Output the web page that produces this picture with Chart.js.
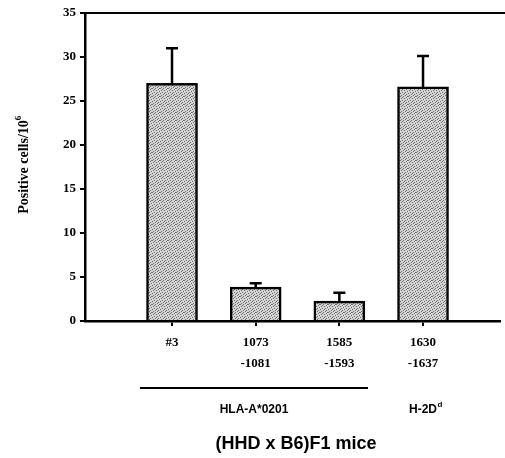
<!DOCTYPE html>
<html>
<head>
<meta charset="utf-8">
<script src="https://cdn.jsdelivr.net/npm/chart.js@4/dist/chart.umd.min.js"></script>
<style>
  html, body { margin: 0; padding: 0; background: #fff; }
  #wrap { width: 505px; height: 458px; }
</style>
</head>
<body>
<div id="wrap"><canvas id="chart"></canvas></div>
<script>
const categories = ['#3', ['1073', '-1081'], ['1585', '-1593'], ['1630', '-1637']]
const positions = [1, 2, 3, 4]
const values = [27.0, 3.85, 2.25, 26.6]
const errorTops = [31.0, 4.3, 3.2, 30.1]
const yTicks = [0, 5, 10, 15, 20, 25, 30, 35]

// stippled grey fill, fixed dot layout
function makePattern() {
  const c = document.createElement('canvas')
  c.width = 8
  c.height = 8
  const ctx = c.getContext('2d')
  ctx.fillStyle = '#d4d4d4'
  ctx.fillRect(0, 0, 8, 8)
  ctx.fillStyle = '#707070'
  const dots = [[0, 0], [3, 0], [6, 1], [1, 2], [4, 2], [7, 3], [2, 4], [5, 4],
    [0, 5], [3, 6], [6, 6], [1, 7], [5, 7], [7, 0], [2, 1], [4, 5]]
  dots.forEach(([x, y]) => ctx.fillRect(x, y, 1, 1))
  return ctx.createPattern(c, 'repeat')
}

const extras = {
  id: 'extras',
  afterDatasetsDraw(chart) {
    const {ctx, chartArea} = chart
    const x = chart.scales.x
    const y = chart.scales.y
    ctx.save()
    ctx.strokeStyle = '#000'
    ctx.lineWidth = 2.5

    // error bars (upper only)
    positions.forEach((p, i) => {
      const px = x.getPixelForValue(p)
      const top = y.getPixelForValue(errorTops[i])
      const base = y.getPixelForValue(values[i])
      ctx.beginPath()
      ctx.moveTo(px, base)
      ctx.lineTo(px, top)
      ctx.moveTo(px - 6, top)
      ctx.lineTo(px + 6, top)
      ctx.stroke()
    })

    // top frame line
    ctx.lineWidth = 2
    ctx.beginPath()
    ctx.moveTo(chartArea.left, chartArea.top)
    ctx.lineTo(505, chartArea.top)
    ctx.stroke()

    // small stub of x axis left of y axis
    ctx.beginPath()
    ctx.moveTo(chartArea.left - 5, chartArea.bottom)
    ctx.lineTo(chartArea.left, chartArea.bottom)
    ctx.stroke()

    // y title
    ctx.fillStyle = '#000'
    ctx.save()
    ctx.translate(24, 163)
    ctx.rotate(-Math.PI / 2)
    ctx.font = 'bold 14px "Liberation Serif"'
    ctx.textAlign = 'center'
    ctx.textBaseline = 'middle'
    const t1 = 'Positive cells/10'
    const w1 = ctx.measureText(t1).width
    ctx.fillText(t1, -4, 0)
    ctx.font = 'bold 9px "Liberation Serif"'
    ctx.textAlign = 'left'
    ctx.fillText('6', -4 + w1 / 2, -5)
    ctx.restore()

    // group line and labels
    ctx.lineWidth = 2
    ctx.beginPath()
    ctx.moveTo(140, 388)
    ctx.lineTo(368, 388)
    ctx.stroke()

    ctx.font = 'bold 12px "Liberation Sans"'
    ctx.textAlign = 'center'
    ctx.textBaseline = 'middle'
    ctx.fillText('HLA-A*0201', 254, 410)
    ctx.textAlign = 'left'
    ctx.fillText('H-2D', 409, 410)
    const w2 = ctx.measureText('H-2D').width
    ctx.font = 'bold 8px "Liberation Sans"'
    ctx.fillText('d', 409 + w2 + 0.5, 405)

    ctx.font = 'bold 18px "Liberation Sans"'
    ctx.textAlign = 'center'
    ctx.fillText('(HHD x B6)F1 mice', 296, 444)
    ctx.restore()
  }
}

new Chart(document.getElementById('chart'), {
  type: 'bar',
  data: {
    datasets: [{
      data: positions.map((p, i) => ({x: p, y: values[i]})),
      backgroundColor: makePattern(),
      borderColor: '#000',
      borderWidth: 2.5,
      borderSkipped: 'bottom',
      barThickness: 51
    }]
  },
  options: {
    responsive: true,
    maintainAspectRatio: false,
    animation: false,
    layout: {padding: {left: 0, right: 5, top: 13, bottom: 0}},
    plugins: {legend: {display: false}, tooltip: {enabled: false}},
    scales: {
      x: {
        type: 'linear',
        offset: false,
        min: -0.04,
        max: 4.92,
        afterBuildTicks: (s) => { s.ticks = positions.map(v => ({value: v})) },
        afterFit: (s) => { s.height = 137 },
        ticks: {
          color: '#000',
          padding: 7,
          font: {family: '"Liberation Serif"', weight: 'bold', size: 13, lineHeight: 1.55},
          callback: (v) => categories[positions.indexOf(v)] ?? ''
        },
        grid: {offset: false, drawOnChartArea: false, tickLength: 5, color: '#000', lineWidth: 2},
        border: {color: '#000', width: 2.5}
      },
      y: {
        min: 0,
        max: 35,
        afterBuildTicks: (s) => { s.ticks = yTicks.map(v => ({value: v})) },
        afterFit: (s) => { s.width = 85 },
        ticks: {
          color: '#000',
          padding: 4,
          font: {family: '"Liberation Serif"', weight: 'bold', size: 13}
        },
        grid: {drawOnChartArea: false, tickLength: 5, color: '#000', lineWidth: 2},
        border: {color: '#000', width: 2.5}
      }
    }
  },
  plugins: [extras]
})
</script>
</body>
</html>
